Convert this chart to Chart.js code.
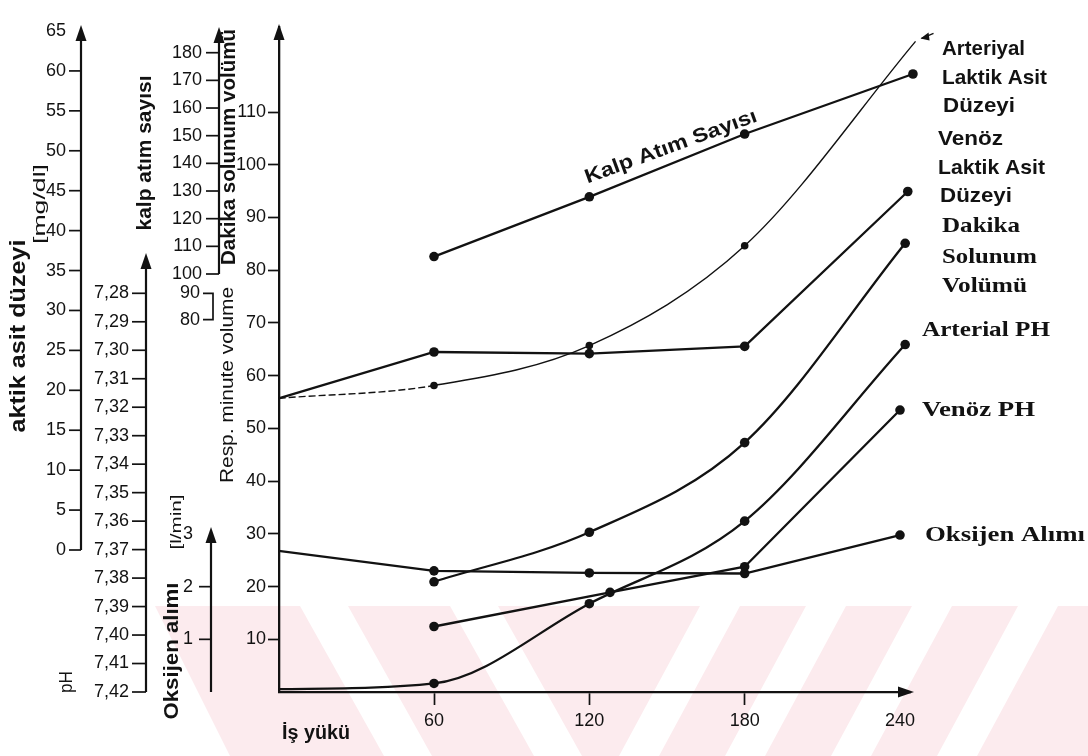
<!DOCTYPE html>
<html>
<head>
<meta charset="utf-8">
<script src="https://cdn.jsdelivr.net/npm/chart.js@4.4.1/dist/chart.umd.min.js"></script>
<style>
html,body{margin:0;padding:0;background:#fff;}
#wrap{width:1088px;height:756px;position:relative;}
canvas{display:block;}
</style>
</head>
<body>
<div id="wrap"><canvas id="c" width="1088" height="756"></canvas></div>
<script>
// ---------------- data ----------------
const workloadTicks = [60, 120, 180, 240];
const workloadTickLabels = ['60', '120', '180', '240'];

const respTicks = [10, 20, 30, 40, 50, 60, 70, 80, 90, 100, 110];
const respTickLabels = ['10', '20', '30', '40', '50', '60', '70', '80', '90', '100', '110'];

const lacticTicks = [0, 5, 10, 15, 20, 25, 30, 35, 40, 45, 50, 55, 60, 65];
const lacticTickLabels = ['0', '5', '10', '15', '20', '25', '30', '35', '40', '45', '50', '55', '60', '65'];

const phTicks = [7.28, 7.29, 7.30, 7.31, 7.32, 7.33, 7.34, 7.35, 7.36, 7.37, 7.38, 7.39, 7.40, 7.41, 7.42];
const phTickLabels = ['7,28', '7,29', '7,30', '7,31', '7,32', '7,33', '7,34', '7,35', '7,36', '7,37', '7,38', '7,39', '7,40', '7,41', '7,42'];

const o2Ticks = [1, 2, 3];
const o2TickLabels = ['1', '2', '3'];

const hrTicks = [100, 110, 120, 130, 140, 150, 160, 170, 180];
const hrTickLabels = ['100', '110', '120', '130', '140', '150', '160', '170', '180'];
const hrBreakTickLabels = ['90', '80'];

// series: x = workload, y = value in the series' own unit
const arterialLacticX = [0, 60, 120, 180, 246];
const arterialLactic  = [19.0, 20.6, 25.6, 38.1, 63.7];      // mg/dl

const venousLacticX = [0, 60, 120, 180, 243];
const venousLactic  = [19.0, 24.8, 24.6, 25.5, 44.9];        // mg/dl

const heartRateX = [60, 120, 180, 245];
const heartRate  = [106.3, 127.9, 150.6, 172.3];             // atım/dk

const respVolumeX = [60, 120, 180, 242];
const respVolume  = [20.9, 30.3, 47.3, 85.1];                // l/min

const arterialPhX = [0, 60, 120, 180, 242];
const arterialPh  = [7.419, 7.417, 7.389, 7.360, 7.298];

const venousPhX = [60, 128, 180, 240];
const venousPh  = [7.397, 7.385, 7.376, 7.321];

const o2UptakeX = [0, 60, 120, 180, 240];
const o2Uptake  = [2.68, 2.30, 2.26, 2.25, 2.98];            // l/min

// ---------------- layout / style ----------------
const INK = '#121212';
const SANS = '"Liberation Sans", Arial, Helvetica, sans-serif';
const SERIF = '"Liberation Serif", "DejaVu Serif", serif';
const AREA = { top: 27, bottom: 692, left: 279, right: 910 };
const X_AXIS_H = 40;

function fitScale(v1, p1, v2, p2) {
  const k = (p1 - p2) / (v2 - v1);
  const vB = v1 + (p1 - AREA.bottom) / k;
  const vT = v1 + (p1 - AREA.top) / k;
  return k > 0 ? { min: vB, max: vT, reverse: false } : { min: vT, max: vB, reverse: true };
}
const xK = (900 - 434) / (240 - 60);
const xRange = { min: 60 - (434 - AREA.left) / xK, max: 60 + (AREA.right - 434) / xK };

const respFit = fitScale(0, 692, 110, 112);
const lacFit = fitScale(0, 550, 65, 31);
const hrFit = fitScale(100, 274, 180, 52.7);
const phFit = fitScale(7.42, 692, 7.28, 293.3);
const o2Fit = fitScale(0, 692, 3, 534);

function pts(xs, ys) { return xs.map((x, i) => ({ x: x, y: ys[i] })); }
function series(label, xs, ys, axis, extra) {
  return Object.assign({
    label: label,
    data: pts(xs, ys),
    yAxisID: axis,
    borderColor: INK,
    backgroundColor: INK,
    pointBackgroundColor: INK,
    pointBorderColor: INK,
    pointBorderWidth: 0,
    borderWidth: 2.3,
    pointRadius: c => (c.raw && c.raw.x === 0) ? 0 : 4.8,
    pointHoverRadius: 4.8,
    tension: 0,
    fill: false,
    clip: false
  }, extra || {});
}

const datasets = [
  series('Arteriyal Laktik Asit Düzeyi', arterialLacticX, arterialLactic, 'yLac', {
    borderWidth: 1.4,
    pointRadius: c => (c.raw && c.raw.x === 0) ? 0 : 3.8,
    cubicInterpolationMode: 'monotone',
    segment: { borderDash: c => c.p0DataIndex === 0 ? [7, 3] : undefined }
  }),
  series('Venöz Laktik Asit Düzeyi', venousLacticX, venousLactic, 'yLac'),
  series('Kalp Atım Sayısı', heartRateX, heartRate, 'yHr'),
  series('Dakika Solunum Volümü', respVolumeX, respVolume, 'y', { cubicInterpolationMode: 'monotone' }),
  series('Arterial PH', arterialPhX, arterialPh, 'yPh', { cubicInterpolationMode: 'monotone' }),
  series('Venöz PH', venousPhX, venousPh, 'yPh'),
  series('Oksijen Alımı', o2UptakeX, o2Uptake, 'yO2')
];

// ---------------- drawing helpers ----------------
function drawFitted(ctx, text, x, y, font, width, angle, align) {
  ctx.save();
  ctx.font = font;
  const w = ctx.measureText(text).width;
  const sx = width ? width / w : 1;
  ctx.translate(x, y);
  ctx.rotate(angle || 0);
  ctx.scale(sx, 1);
  ctx.textAlign = align || 'center';
  ctx.textBaseline = 'middle';
  ctx.fillStyle = INK;
  ctx.fillText(text, 0, 0);
  ctx.restore();
}
function arrowUp(ctx, x, tipY, h, hw) {
  ctx.beginPath();
  ctx.moveTo(x, tipY);
  ctx.lineTo(x - hw, tipY + h);
  ctx.lineTo(x + hw, tipY + h);
  ctx.closePath();
  ctx.fill();
}
function arrowRight(ctx, tipX, y, h, hw) {
  ctx.beginPath();
  ctx.moveTo(tipX, y);
  ctx.lineTo(tipX - h, y - hw);
  ctx.lineTo(tipX - h, y + hw);
  ctx.closePath();
  ctx.fill();
}

const sideAxes = [
  { id: 'yLac', x: 81, ticks: lacticTicks, labels: lacticTickLabels, tickLen: 12, gap: 3, base: 0, tip: 25 },
  { id: 'yPh', x: 146, ticks: phTicks, labels: phTickLabels, tickLen: 14, gap: 3, base: 7.42, tip: 253 },
  { id: 'yO2', x: 211, ticks: o2Ticks, labels: o2TickLabels, tickLen: 12, gap: 6, base: 0, tip: 527 },
  { id: 'yHr', x: 219, ticks: hrTicks, labels: hrTickLabels, tickLen: 13, gap: 4, base: 100, tip: 27 }
];

const pinkPlugin = {
  id: 'paper',
  beforeDraw(chart) {
    const ctx = chart.ctx;
    ctx.save();
    ctx.fillStyle = '#ffffff';
    ctx.fillRect(0, 0, chart.width, chart.height);
    // faint pink watermark of the scanned page
    ctx.beginPath();
    ctx.moveTo(155, 606); ctx.lineTo(1088, 606); ctx.lineTo(1088, 756); ctx.lineTo(230, 756); ctx.closePath();
    ctx.clip();
    ctx.fillStyle = '#fcebee';
    ctx.fillRect(150, 600, 940, 160);
    ctx.fillStyle = '#ffffff';
    const h = 150;
    [300, 450].forEach(x0 => {
      ctx.beginPath();
      ctx.moveTo(x0, 606); ctx.lineTo(x0 + 48, 606); ctx.lineTo(x0 + 48 + 0.56 * h, 756); ctx.lineTo(x0 + 0.56 * h, 756);
      ctx.closePath(); ctx.fill();
    });
    [700, 806, 912, 1018].forEach(x0 => {
      ctx.beginPath();
      ctx.moveTo(x0, 606); ctx.lineTo(x0 + 40, 606); ctx.lineTo(x0 + 40 - 0.54 * h, 756); ctx.lineTo(x0 - 0.54 * h, 756);
      ctx.closePath(); ctx.fill();
    });
    ctx.restore();
  }
};

const annotPlugin = {
  id: 'annot',
  afterDraw(chart) {
    const ctx = chart.ctx;
    const sc = chart.scales;
    ctx.save();
    ctx.fillStyle = INK;
    ctx.strokeStyle = INK;

    // arrows of the main axes
    arrowUp(ctx, sc.y.right, AREA.top - 3, 16, 5.5);
    arrowRight(ctx, AREA.right + 4, sc.x.top, 16, 5.5);

    // secondary vertical axes
    ctx.font = '18px ' + SANS;
    ctx.textAlign = 'right';
    ctx.textBaseline = 'middle';
    sideAxes.forEach(a => {
      const s = sc[a.id];
      const yb = s.getPixelForValue(a.base);
      ctx.lineWidth = 2.2;
      ctx.beginPath(); ctx.moveTo(a.x, yb); ctx.lineTo(a.x, a.tip + 10); ctx.stroke();
      arrowUp(ctx, a.x, a.tip, 16, 5.5);
      ctx.lineWidth = 1.7;
      a.ticks.forEach((v, i) => {
        const py = s.getPixelForValue(v);
        if (py > a.tip + 17) {
          ctx.beginPath(); ctx.moveTo(a.x - a.tickLen, py); ctx.lineTo(a.x, py); ctx.stroke();
        }
        ctx.fillText(a.labels[i], a.x - a.tickLen - a.gap, py);
      });
    });
    // broken heart-rate scale bracket (80 / 90)
    const hr = sc.yHr;
    const br = [93, 83.5].map(v => hr.getPixelForValue(v));
    ctx.lineWidth = 1.7;
    ctx.beginPath();
    ctx.moveTo(203, br[0]); ctx.lineTo(213, br[0]); ctx.lineTo(213, br[1]); ctx.lineTo(203, br[1]);
    ctx.stroke();
    hrBreakTickLabels.forEach((t, i) => ctx.fillText(t, 200, br[i]));

    // rotated axis titles
    const up = -Math.PI / 2;
    drawFitted(ctx, 'aktik asit düzeyi', 19, 336, 'bold 22px ' + SANS, 193, up);
    drawFitted(ctx, '[mg/dl]', 41, 204, '16px ' + SANS, 80, up);
    drawFitted(ctx, 'pH', 67, 682, '18px ' + SANS, 22, up);
    drawFitted(ctx, 'kalp atım sayısı', 145, 153, 'bold 20px ' + SANS, 155, up);
    drawFitted(ctx, 'Resp. minute volume', 228, 385, '18px ' + SANS, 196, up);
    drawFitted(ctx, 'Dakika solunum volümü', 229, 147, 'bold 21px ' + SANS, 236, up);
    drawFitted(ctx, '[l/min]', 177, 522, '15px ' + SANS, 55, up);
    drawFitted(ctx, 'Oksijen alımı', 172, 651, 'bold 21px ' + SANS, 137, up);
    drawFitted(ctx, 'İş yükü', 282, 733, 'bold 20px ' + SANS, 68, 0, 'left');

    // label along the heart-rate line
    drawFitted(ctx, 'Kalp Atım Sayısı', 671, 147, 'bold 20px ' + SANS, 182, -0.35);

    // series names at the right
    const rs = 'bold 21px ' + SANS, rf = 'bold 22px ' + SERIF;
    drawFitted(ctx, 'Arteriyal', 942, 49, rs, 83, 0, 'left');
    drawFitted(ctx, 'Laktik Asit', 942, 78, rs, 105, 0, 'left');
    drawFitted(ctx, 'Düzeyi', 943, 106, rs, 72, 0, 'left');
    drawFitted(ctx, 'Venöz', 938, 139, rs, 65, 0, 'left');
    drawFitted(ctx, 'Laktik Asit', 938, 168, rs, 107, 0, 'left');
    drawFitted(ctx, 'Düzeyi', 940, 196, rs, 72, 0, 'left');
    drawFitted(ctx, 'Dakika', 942, 226, rf, 78, 0, 'left');
    drawFitted(ctx, 'Solunum', 942, 257, rf, 95, 0, 'left');
    drawFitted(ctx, 'Volümü', 942, 286, rf, 85, 0, 'left');
    drawFitted(ctx, 'Arterial PH', 922, 330, rf, 128, 0, 'left');
    drawFitted(ctx, 'Venöz PH', 922, 410, rf, 113, 0, 'left');
    drawFitted(ctx, 'Oksijen Alımı', 925, 535, rf, 160, 0, 'left');

    // small pointer arrow at the end of the arterial lactic curve
    const meta = chart.getDatasetMeta(0);
    const last = meta.data[meta.data.length - 1];
    ctx.lineWidth = 1.3;
    ctx.beginPath(); ctx.moveTo(last.x + 18, last.y - 8); ctx.lineTo(last.x + 6, last.y - 3); ctx.stroke();
    ctx.beginPath();
    ctx.moveTo(last.x + 5, last.y - 3);
    ctx.lineTo(last.x + 13, last.y - 9);
    ctx.lineTo(last.x + 14, last.y - 1);
    ctx.closePath(); ctx.fill();
    ctx.restore();
  }
};

const hidden = (fit) => ({ type: 'linear', display: false, min: fit.min, max: fit.max, reverse: fit.reverse });

new Chart(document.getElementById('c').getContext('2d'), {
  type: 'line',
  data: { datasets: datasets },
  options: {
    responsive: false,
    animation: false,
    devicePixelRatio: 1,
    events: [],
    layout: { padding: { top: AREA.top, left: 0, right: 1088 - AREA.right, bottom: 756 - AREA.bottom - X_AXIS_H } },
    plugins: { legend: { display: false }, tooltip: { enabled: false } },
    scales: {
      x: {
        type: 'linear', position: 'bottom', min: xRange.min, max: xRange.max,
        afterFit(s) { s.height = X_AXIS_H; },
        afterBuildTicks(s) { s.ticks = workloadTicks.map(v => ({ value: v })); },
        grid: {
          drawOnChartArea: false, drawTicks: true, tickLength: 13, tickWidth: 1.7,
          tickColor: c => (c.tick && c.tick.value === 240) ? 'rgba(0,0,0,0)' : INK
        },
        border: { display: true, color: INK, width: 2.3 },
        ticks: {
          autoSkip: false, maxRotation: 0, padding: 5, color: INK,
          font: { family: SANS, size: 18 },
          callback: (v, i) => workloadTickLabels[i]
        }
      },
      y: {
        type: 'linear', position: 'left', min: respFit.min, max: respFit.max,
        afterFit(s) { s.width = AREA.left; },
        afterBuildTicks(s) { s.ticks = respTicks.map(v => ({ value: v })); },
        grid: { drawOnChartArea: false, drawTicks: true, tickLength: 11, tickWidth: 1.7, tickColor: INK },
        border: { display: true, color: INK, width: 2.3 },
        ticks: {
          autoSkip: false, padding: 2, color: INK,
          font: { family: SANS, size: 18 },
          callback: (v, i) => respTickLabels[i]
        }
      },
      yLac: hidden(lacFit),
      yHr: hidden(hrFit),
      yPh: hidden(phFit),
      yO2: hidden(o2Fit)
    }
  },
  plugins: [pinkPlugin, annotPlugin]
});
</script>
</body>
</html>
